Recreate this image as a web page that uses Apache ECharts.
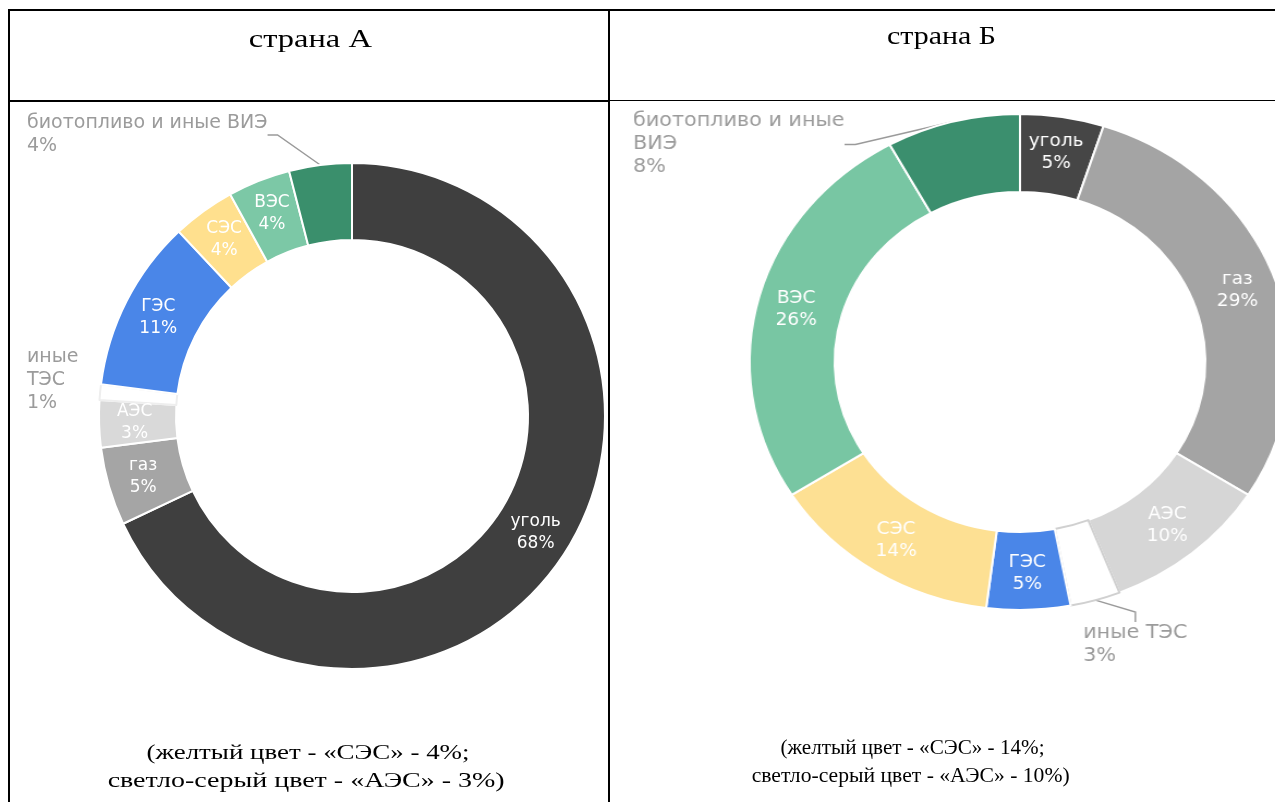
<!DOCTYPE html>
<html><head><meta charset="utf-8">
<script src="https://cdn.jsdelivr.net/npm/echarts@6/dist/echarts.min.js"></script>
<style>
html,body{margin:0;padding:0;background:#fff;}
body{width:1275px;height:802px;position:relative;overflow:hidden;}
.ln{position:absolute;background:#000;z-index:5;}
.tx{position:absolute;width:600px;text-align:center;white-space:nowrap;font-family:"Liberation Serif","Times New Roman",serif;font-size:22px;line-height:28px;color:#000;z-index:6;}
.tx.big{font-size:25px;line-height:30px;}
.tx span{display:inline-block;transform-origin:50% 50%;}
#chartA,#chartB{position:absolute;top:102px;height:700px;}
#chartA{left:10px;width:599px;}
#chartB{left:610px;width:665px;transform:scaleX(1.09);transform-origin:410px 50%;}
</style></head><body>
<div id="chartA"></div><div id="chartB"></div>
<div class="ln" style="left:8px;top:9px;width:1267px;height:2px"></div>
<div class="ln" style="left:8px;top:9px;width:2px;height:793px"></div>
<div class="ln" style="left:608px;top:9px;width:2px;height:793px"></div>
<div class="ln" style="left:8px;top:100px;width:602px;height:2px"></div>
<div class="ln" style="left:610px;top:100px;width:665px;height:1px"></div>
<div id="texts"></div>
<script>
// ---- data ----
const categories = ['уголь','газ','АЭС','иные ТЭС','ГЭС','СЭС','ВЭС','биотопливо и иные ВИЭ'];
const valuesA = [68, 5, 3, 1, 11, 4, 4, 4];
const valuesB = [5, 29, 10, 3, 5, 14, 26, 8];
const labelTextA = ['уголь','газ','АЭС','иные\nТЭС','ГЭС','СЭС','ВЭС','биотопливо и иные ВИЭ'];
const labelTextB = ['уголь','газ','АЭС','иные ТЭС','ГЭС','СЭС','ВЭС','биотопливо и иные\nВИЭ'];
const titles = ['страна А', 'страна Б'];
const captionA = ['(желтый цвет - «СЭС» - 4%;', 'светло-серый цвет - «АЭС» - 3%)'];
const captionB = ['(желтый цвет - «СЭС» - 14%;', 'светло-серый цвет - «АЭС» - 10%)'];

// ---- styles ----
const colorsA = ['#3f3f3f','#a5a5a5','#d9d9d9','#ffffff','#4a86e8','#ffe08e','#7cc8a6','#3a8f6c'];
const colorsB = ['#464646','#a4a4a4','#d6d6d6','#ffffff','#4a86e8','#fde093','#78c6a3','#3b8f6e'];

// text placement: [text, centerX, top, targetWidth, big]
const textPlacement = [
  [titles[0], 310, 24, 123, true], [titles[1], 942, 21, 109, true],
  [captionA[0], 308, 738, 323], [captionA[1], 306, 766, 397],
  [captionB[0], 913, 733, 264], [captionB[1], 911, 761, 318]
];
const host = document.getElementById('texts');
textPlacement.forEach(function(t){
  const d = document.createElement('div');
  d.className = 'tx' + (t[4] ? ' big' : '');
  d.style.left = (t[1] - 300) + 'px';
  d.style.top = t[2] + 'px';
  const s = document.createElement('span');
  s.textContent = t[0];
  d.appendChild(s);
  host.appendChild(d);
  const w = s.getBoundingClientRect().width;
  if (w > 0) s.style.transform = 'scaleX(' + (t[3] / w) + ')';
});

function buildOption(values, labels, colors, center, radius, outside, labelPos, lineFor, whiteBorder) {
  const data = categories.map(function(name, i){
    const item = {
      name: name,
      value: values[i],
      itemStyle: { color: colors[i] },
      label: { formatter: labels[i] + '\n' + values[i] + '%' }
    };
    if (i === 3) item.itemStyle.borderColor = whiteBorder;
    if (outside.indexOf(i) >= 0) {
      item.label.position = 'outside';
      item.label.color = '#9b9b9b';
      item.label.fontSize = 19;
      item.label.lineHeight = 23;
      item.label.align = 'left';
      item.labelLine = { show: lineFor.indexOf(i) >= 0, length: 15, length2: 10,
        lineStyle: { color: '#9a9a9a', width: 1.5 } };
    }
    return item;
  });
  return {
    animation: false,
    series: [{
      type: 'pie',
      center: center,
      radius: radius,
      startAngle: 90,
      clockwise: true,
      avoidLabelOverlap: false,
      silent: true,
      itemStyle: { borderColor: '#ffffff', borderWidth: 2 },
      label: {
        show: true, position: 'inside', color: '#ffffff',
        fontFamily: 'DejaVu Sans', fontSize: 17, lineHeight: 22
      },
      labelLine: { show: false },
      labelLayout: function(p){
        const pos = labelPos[p.dataIndex];
        return pos ? { x: pos[0], y: pos[1], align: 'left', verticalAlign: 'top' } : {};
      },
      data: data
    }]
  };
}

const chartA = echarts.init(document.getElementById('chartA'), null, {renderer: 'canvas'});
chartA.setOption(buildOption(valuesA, labelTextA, colorsA, [342, 314], [176, 253],
  [3, 7], {3: [17, 244], 7: [17, 10]}, [7], '#eeeeee'));

const chartB = echarts.init(document.getElementById('chartB'), null, {renderer: 'canvas'});
chartB.setOption(buildOption(valuesB, labelTextB, colorsB, [410, 260], [170, 248],
  [3, 7], {3: [468, 520], 7: [55, 8]}, [3, 7], '#d0d0d0'));
</script>
</body></html>
